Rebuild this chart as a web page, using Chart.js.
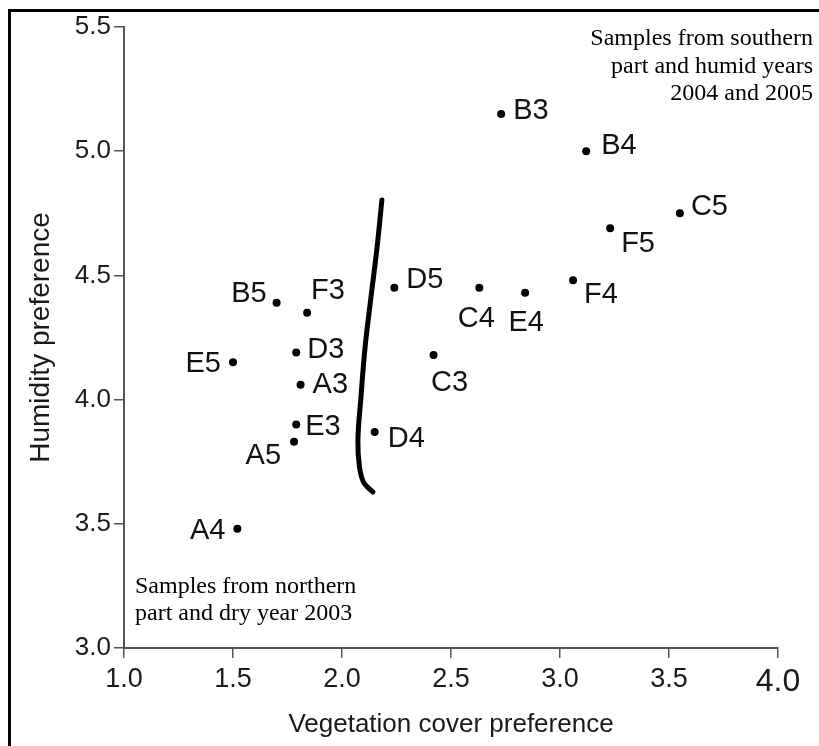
<!DOCTYPE html>
<html>
<head>
<meta charset="utf-8">
<title>Humidity vs vegetation cover preference</title>
<script src="https://cdn.jsdelivr.net/npm/chart.js@4.4.1/dist/chart.umd.min.js"></script>
<style>
  html, body { margin: 0; padding: 0; background: #fff; }
  #wrap { width: 819px; height: 746px; position: relative; }
</style>
</head>
<body>
<div id="wrap"><canvas id="scatterChart"></canvas></div>
<script>
// Sample data
const sampleLabels = ["B3", "B4", "C5", "F5", "F4", "E4", "C4", "C3", "D5", "D4", "B5", "F3", "D3", "E5", "A3", "E3", "A5", "A4"];
const vegetationCover = [2.73, 3.12, 3.55, 3.23, 3.06, 2.84, 2.63, 2.42, 2.24, 2.15, 1.70, 1.84, 1.79, 1.50, 1.81, 1.79, 1.78, 1.52];
const humidity = [5.15, 5.00, 4.75, 4.69, 4.48, 4.43, 4.45, 4.18, 4.45, 3.87, 4.39, 4.35, 4.19, 4.15, 4.06, 3.90, 3.83, 3.48];

// Hand-drawn divider between the two groups
const dividerX = [2.183, 2.161, 2.133, 2.106, 2.087, 2.073, 2.080, 2.100, 2.142];
const dividerY = [4.804, 4.614, 4.413, 4.212, 4.010, 3.837, 3.730, 3.666, 3.628];

const xTicks = [1.0, 1.5, 2.0, 2.5, 3.0, 3.5, 4.0];
const yTicks = [3.0, 3.5, 4.0, 4.5, 5.0, 5.5];

const northNote = ["Samples from northern", "part and dry year 2003"];
const southNote = ["Samples from southern", "part and humid years", "2004 and 2005"];

// where each point label sits relative to its dot (pixels)
const labelPlacement = {
  B3: [12, -5, "left"], B4: [15, -7, "left"], C5: [11, -8, "left"],
  F5: [11, 14, "left"], F4: [11, 13, "left"], E4: [1, 28, "center"],
  C4: [-3, 29, "center"], C3: [16, 26, "center"], D5: [12, -10, "left"],
  D4: [13, 5, "left"], B5: [-10, -11, "right"], F3: [4, -24, "left"],
  D3: [11, -4, "left"], E5: [-12, 0, "right"], A3: [12, -2, "left"],
  E3: [9, 1, "left"], A5: [-13, 12, "right"], A4: [-12, 0, "right"],
};

const sansFont = "'Liberation Sans', Arial, sans-serif";
const serifFont = "'Liberation Serif', 'Times New Roman', serif";
const axisGrey = "#555";

const points = sampleLabels.map((label, i) => ({ x: vegetationCover[i], y: humidity[i] }));
const divider = dividerX.map((x, i) => ({ x, y: dividerY[i] }));

const annotationPlugin = {
  id: "annotations",
  beforeDraw(chart) {
    const { ctx, width, height } = chart;
    ctx.save();
    ctx.fillStyle = "#fff";
    ctx.fillRect(0, 0, width, height);
    // frame (left and top edges only, as in the cropped figure)
    ctx.strokeStyle = "#000";
    ctx.lineWidth = 3;
    ctx.beginPath();
    ctx.moveTo(9.5, height);
    ctx.lineTo(9.5, 10.5);
    ctx.lineTo(width, 10.5);
    ctx.stroke();
    ctx.restore();
  },
  afterDatasetsDraw(chart) {
    const { ctx } = chart;
    const meta = chart.getDatasetMeta(1);
    ctx.save();
    ctx.fillStyle = "#111";
    ctx.font = "29px " + sansFont;
    ctx.textBaseline = "alphabetic";
    meta.data.forEach((pt, i) => {
      const label = sampleLabels[i];
      const [dx, dy, align] = labelPlacement[label] || [10, 0, "left"];
      ctx.textAlign = align;
      ctx.fillText(label, pt.x + dx, pt.y + dy + 10);
    });

    ctx.fillStyle = "#000";
    ctx.font = "24px " + serifFont;
    ctx.textAlign = "left";
    northNote.forEach((line, i) => ctx.fillText(line, 135, 593 + i * 27));
    ctx.textAlign = "right";
    southNote.forEach((line, i) => ctx.fillText(line, 813, 45 + i * 27.5));
    ctx.restore();
  },
};

new Chart(document.getElementById("scatterChart"), {
  type: "scatter",
  data: {
    datasets: [
      {
        type: "line",
        label: "divider",
        data: divider,
        showLine: true,
        borderColor: "#000",
        borderWidth: 5,
        borderCapStyle: "round",
        tension: 0.4,
        pointRadius: 0,
        fill: false,
      },
      {
        label: "Samples",
        data: points,
        pointRadius: 4,
        pointBackgroundColor: "#000",
        pointBorderWidth: 0,
      },
    ],
  },
  options: {
    responsive: true,
    maintainAspectRatio: false,
    animation: false,
    layout: { padding: { top: 27, right: 41, left: 0, bottom: 0 } },
    plugins: {
      legend: { display: false },
      tooltip: { enabled: false },
    },
    scales: {
      x: {
        type: "linear",
        min: 1,
        max: 4,
        afterBuildTicks: (scale) => {
          scale.ticks = xTicks.map((v) => ({ value: v }));
        },
        afterFit: (scale) => {
          scale.height = 98;
        },
        ticks: {
          color: "#1a1a1a",
          padding: 5,
          font: (ctx) => ({ family: sansFont, size: ctx.tick && ctx.tick.value === 4 ? 32 : 27 }),
          callback: (value) => Number(value).toFixed(1),
        },
        grid: {
          drawOnChartArea: false,
          drawTicks: true,
          tickLength: 10,
          color: axisGrey,
          lineWidth: 1.5,
        },
        border: { display: true, color: axisGrey, width: 2 },
        title: {
          display: true,
          text: "Vegetation cover preference",
          color: "#1a1a1a",
          font: { family: sansFont, size: 26 },
          padding: { top: 0, bottom: 6 },
        },
      },
      y: {
        type: "linear",
        min: 3,
        max: 5.5,
        afterBuildTicks: (scale) => {
          scale.ticks = yTicks.map((v) => ({ value: v }));
        },
        afterFit: (scale) => {
          scale.width = 124;
        },
        ticks: {
          color: "#1a1a1a",
          padding: 3,
          font: { family: sansFont, size: 26 },
          callback: (value) => Number(value).toFixed(1),
        },
        grid: {
          drawOnChartArea: false,
          drawTicks: true,
          tickLength: 10,
          color: axisGrey,
          lineWidth: 1.5,
        },
        border: { display: true, color: axisGrey, width: 2 },
        title: {
          display: true,
          text: "Humidity preference",
          color: "#1a1a1a",
          font: { family: sansFont, size: 28 },
          padding: { top: 24, bottom: 0 },
        },
      },
    },
  },
  plugins: [annotationPlugin],
});
</script>
</body>
</html>
